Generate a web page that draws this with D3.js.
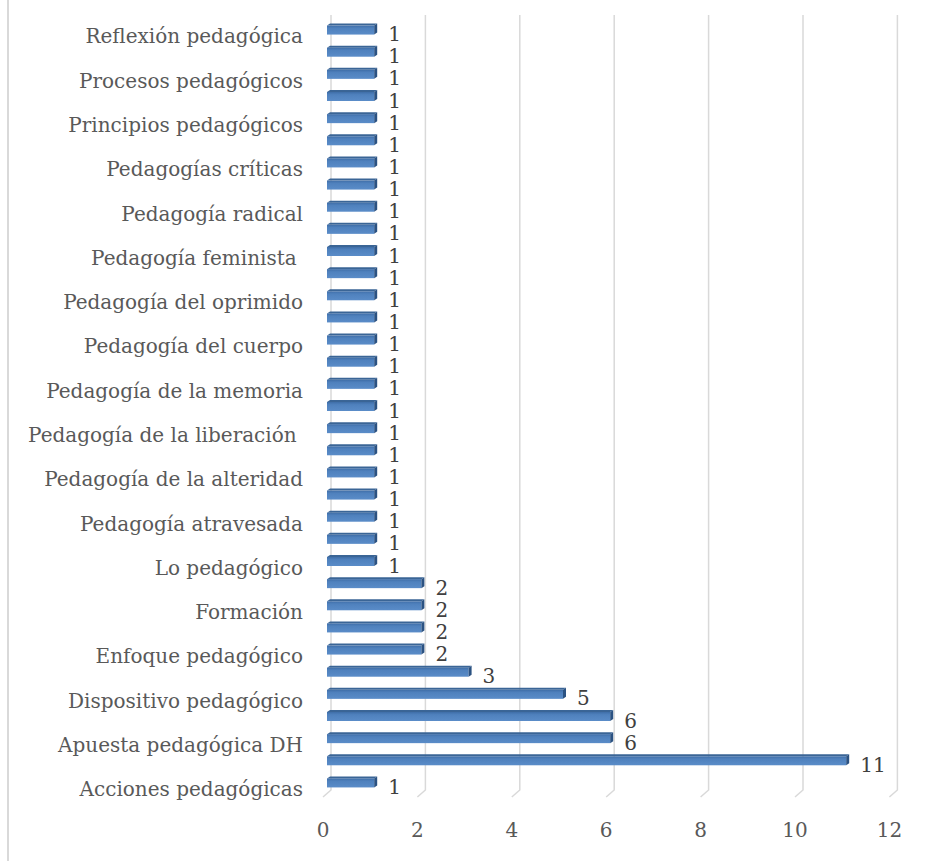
<!DOCTYPE html>
<meta charset="utf-8">
<style>
body { margin: 0; background: #fff; }
text { font-family: "DejaVu Serif", serif; }
.cat text { fill: #595959; font-size: 20px; white-space: pre; }
.xax text { fill: #595959; font-size: 20px; }
.val { fill: #404040; font-size: 20px; }
</style>
<svg width="936" height="861"></svg>
<script src="https://cdn.jsdelivr.net/npm/d3@7"></script>
<script>

// categories, bottom to top (every other one is hidden on the axis, like Excel does)
var categories = [
  "Acciones pedagógicas", "Apuesta pedagógica", "Apuesta pedagógica DH", "Didáctica",
  "Dispositivo pedagógico", "Educación", "Enfoque pedagógico", "Experiencia pedagógica",
  "Formación", "Intervención pedagógica", "Lo pedagógico", "Mediación pedagógica",
  "Pedagogía atravesada", "Pedagogía crítica", "Pedagogía de la alteridad", "Pedagogía de la esperanza",
  "Pedagogía de la liberación ", "Pedagogía de la lucha", "Pedagogía de la memoria", "Pedagogía de la pregunta",
  "Pedagogía del cuerpo", "Pedagogía del encuentro", "Pedagogía del oprimido", "Pedagogía emancipadora",
  "Pedagogía feminista ", "Pedagogía popular", "Pedagogía radical", "Pedagogía social",
  "Pedagogías críticas", "Práctica pedagógica", "Principios pedagógicos", "Proceso formativo",
  "Procesos pedagógicos", "Propuesta pedagógica", "Reflexión pedagógica"
];
var values = [
  1, 11, 6, 6, 5, 3, 2, 2, 2, 2,
  1, 1, 1, 1, 1, 1, 1, 1, 1, 1,
  1, 1, 1, 1, 1, 1, 1, 1, 1, 1,
  1, 1, 1, 1, 1
];
var xTicks = [0, 2, 4, 6, 8, 10, 12];

var svg = d3.select("svg");

var data = categories.map(function(c, i) { return {name: c, value: values[i], i: i}; });

var x = d3.scaleLinear()
    .domain([0, 12])
    .range([327, 893.4]);

var y = d3.scaleBand()
    .domain(categories)
    .range([794, 19])
    .paddingInner(0.5)
    .paddingOuter(0.25);

var gridTop = 15, gridBottom = 790;

// left border of chart area
svg.append("line")
    .attr("x1", 8).attr("x2", 8)
    .attr("y1", 0).attr("y2", 861)
    .attr("stroke", "#d9d9d9")
    .attr("stroke-width", 2);

// gridlines on the back wall, with the little foot in front
svg.append("g")
  .selectAll("path")
  .data(xTicks)
  .enter().append("path")
    .attr("fill", "none")
    .attr("stroke", "#d9d9d9")
    .attr("stroke-width", 1.5)
    .attr("d", function(d) {
      var xb = x(d) + 4;
      return "M" + xb + "," + gridTop + "V" + gridBottom + "L" + (xb - 8) + "," + (gridBottom + 7);
    });

// gradient for the bar fronts
var defs = svg.append("defs");
var grad = defs.append("linearGradient")
    .attr("id", "barfront")
    .attr("x1", 0).attr("x2", 0).attr("y1", 0).attr("y2", 1);
grad.append("stop").attr("offset", "0%").attr("stop-color", "#3f6ea8");
grad.append("stop").attr("offset", "30%").attr("stop-color", "#4f81bd");
grad.append("stop").attr("offset", "100%").attr("stop-color", "#5a8cc8");

var h = 9, dep = 3;
var bars = svg.append("g").selectAll("g")
  .data(data)
  .enter().append("g");

function cy(d) { return y(d.name) + y.bandwidth() / 2; }

// top face
bars.append("path")
    .attr("fill", "#3a6596")
    .attr("d", function(d) {
      var yt = cy(d) - h / 2, x0 = x(0), x1 = x(d.value);
      return "M" + x0 + "," + yt + "L" + (x0 + dep) + "," + (yt - 2) +
             "L" + (x1 + dep) + "," + (yt - 2) + "L" + x1 + "," + yt + "Z";
    });

// front face
bars.append("rect")
    .attr("x", x(0))
    .attr("y", function(d) { return cy(d) - h / 2; })
    .attr("width", function(d) { return x(d.value) - x(0); })
    .attr("height", h)
    .attr("fill", "url(#barfront)");

// side face
bars.append("path")
    .attr("fill", "#2b5282")
    .attr("d", function(d) {
      var yt = cy(d) - h / 2, yb = cy(d) + h / 2, x1 = x(d.value);
      return "M" + x1 + "," + yt + "L" + (x1 + dep) + "," + (yt - 2) +
             "L" + (x1 + dep) + "," + (yb - 2) + "L" + x1 + "," + yb + "Z";
    });

// value labels
bars.append("text")
    .attr("class", "val")
    .attr("x", function(d) { return x(d.value) + 14; })
    .attr("y", function(d) { return cy(d) + 4; })
    .attr("dy", "0.35em")
    .text(function(d) { return d.value; });

// category axis, only every other label
var yAxis = d3.axisLeft(y)
    .tickValues(categories.filter(function(d, i) { return i % 2 === 0; }))
    .tickSize(0)
    .tickPadding(0);

svg.append("g")
    .attr("class", "cat")
    .attr("transform", "translate(303,7)")
    .call(yAxis)
    .call(function(g) { g.select(".domain").remove(); });

// value axis labels
svg.append("g")
    .attr("class", "xax")
  .selectAll("text")
  .data(xTicks)
  .enter().append("text")
    .attr("x", function(d) { return x(d) - 4; })
    .attr("y", 830)
    .attr("dy", "0.35em")
    .attr("text-anchor", "middle")
    .text(function(d) { return d; });

</script>
